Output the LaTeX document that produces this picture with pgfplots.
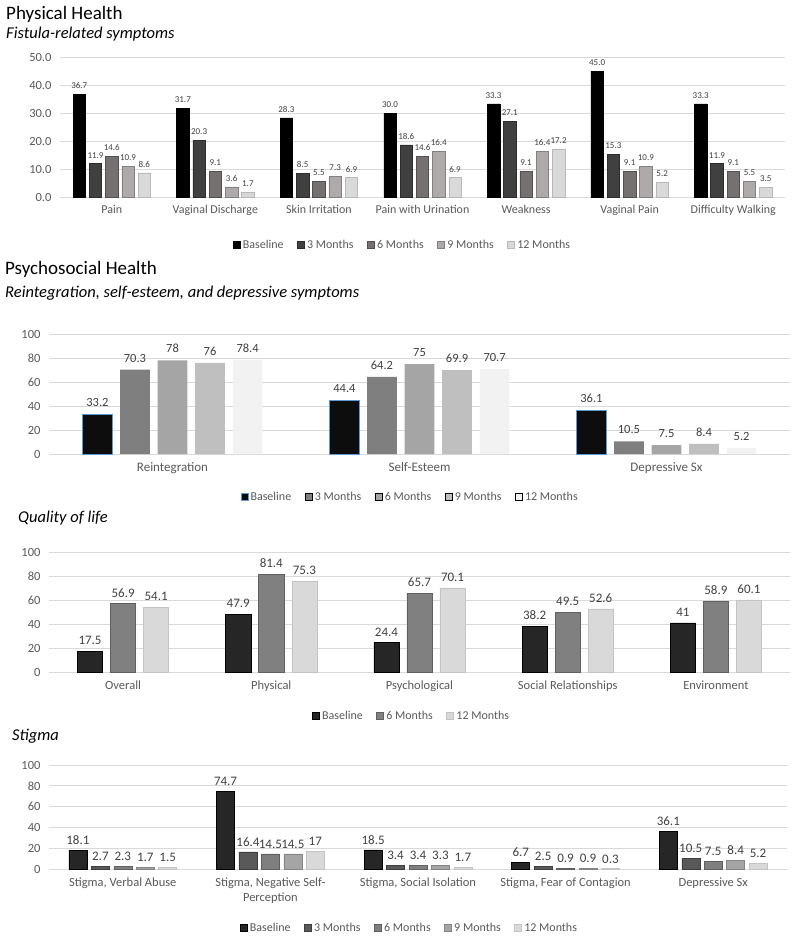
\documentclass[border=0pt]{standalone}
\usepackage{pgfplots}
\pgfplotsset{compat=1.18}
\usepackage{fontspec}
\setmainfont{Carlito}

\definecolor{gridc}{HTML}{D9D9D9}
\definecolor{txt}{HTML}{595959}
\definecolor{lbl}{HTML}{404040}
\definecolor{c1a}{HTML}{000000}
\definecolor{c1b}{HTML}{404040}
\definecolor{c1c}{HTML}{767171}
\definecolor{c1d}{HTML}{AEAAAA}
\definecolor{c1e}{HTML}{D9D9D9}
\definecolor{c2a}{HTML}{0D0D0D}
\definecolor{c2bl}{HTML}{5B9BD5}
\definecolor{c2b}{HTML}{7F7F7F}
\definecolor{c2c}{HTML}{A5A5A5}
\definecolor{c2d}{HTML}{BFBFBF}
\definecolor{c2e}{HTML}{F2F2F2}
\definecolor{c3a}{HTML}{262626}
\definecolor{c3b}{HTML}{808080}
\definecolor{c3c}{HTML}{D9D9D9}
\definecolor{c4a}{HTML}{262626}
\definecolor{c4b}{HTML}{595959}
\definecolor{c4c}{HTML}{7F7F7F}
\definecolor{c4d}{HTML}{A5A5A5}
\definecolor{c4e}{HTML}{D9D9D9}

\pgfplotsset{
  /pgf/number format/assume math mode=true,
  sq/.style={legend image code/.code={\draw[##1,line width=0.5pt] (0pt,-3.5pt) rectangle (7pt,3.5pt);}},
  chart/.style={
    ybar, scale only axis, anchor=south west,
    enlarge x limits=false, enlarge y limits=false,
    axis line style={draw=none},
    major tick length=0pt,
    ymajorgrids, grid style={draw=gridc, line width=1pt},
    tick label style={text=txt, font=\fontsize{12}{14}\selectfont},
    yticklabel style={xshift=-5pt, font=\fontsize{12.5}{14}\selectfont},
    xticklabel style={yshift=-5pt, align=center},
    legend style={draw=none, fill=none, legend columns=-1, anchor=center,
      font=\fontsize{12}{14}\selectfont, text=txt,
      /tikz/every odd column/.append style={column sep=1pt},
      /tikz/every even column/.append style={column sep=12pt},
      nodes={inner sep=1.5pt}},
    every axis plot post/.append style={sq},
    clip=false,
  },
}

\begin{document}
\begin{tikzpicture}
\path[use as bounding box] (0,0) rectangle (800pt,-942pt);

% ---------- Titles ----------
\node[anchor=base west, inner sep=0pt, font=\fontsize{19}{22}\selectfont] at (6pt,-20pt) {Physical Health};
\node[anchor=base west, inner sep=0pt, font=\fontsize{16.5}{19}\selectfont\itshape] at (6pt,-39pt) {Fistula-related symptoms};
\node[anchor=base west, inner sep=0pt, font=\fontsize{19}{22}\selectfont] at (5pt,-274pt) {Psychosocial Health};
\node[anchor=base west, inner sep=0pt, font=\fontsize{16.5}{19}\selectfont\itshape] at (5pt,-297pt) {Reintegration, self-esteem, and depressive symptoms};
\node[anchor=base west, inner sep=0pt, font=\fontsize{16.5}{19}\selectfont\itshape] at (18pt,-522pt) {Quality of life};
\node[anchor=base west, inner sep=0pt, font=\fontsize{16.5}{19}\selectfont\itshape] at (12pt,-740pt) {Stigma};

% ---------- Chart 1 ----------
\begin{axis}[chart,
  at={(60pt,-197pt)}, width=725pt, height=140pt,
  xmin=-0.5, xmax=6.5, ymin=0, ymax=50, ytick={0,10,...,50},
  yticklabel style={/pgf/number format/fixed, /pgf/number format/fixed zerofill, /pgf/number format/precision=1},
  xtick={0,...,6},
  xticklabels={Pain, Vaginal Discharge, Skin Irritation, Pain with Urination, Weakness, Vaginal Pain, Difficulty Walking},
  bar width=0.12,
  nodes near coords={\pgfmathprintnumber[fixed,fixed zerofill,precision=1]{\pgfplotspointmeta}},
  nodes near coords style={font=\fontsize{9}{10}\selectfont, text=lbl, yshift=2pt},
  legend style={at={(0.472,-0.343)}},
]
\addplot[fill=c1a, draw=black, line width=0.5pt, bar shift=-0.314] coordinates {(0,36.7) (1,31.7) (2,28.3) (3,30.0) (4,33.3) (5,45.0) (6,33.3)};
\addplot[fill=c1b, draw=c1b!70!black, line width=0.5pt, bar shift=-0.157] coordinates {(0,11.9) (1,20.3) (2,8.5) (3,18.6) (4,27.1) (5,15.3) (6,11.9)};
\addplot[fill=c1c, draw=c1c!70!black, line width=0.5pt, bar shift=0] coordinates {(0,14.6) (1,9.1) (2,5.5) (3,14.6) (4,9.1) (5,9.1) (6,9.1)};
\addplot[fill=c1d, draw=c1d!75!black, line width=0.5pt, bar shift=0.157] coordinates {(0,10.9) (1,3.6) (2,7.3) (3,16.4) (4,16.4) (5,10.9) (6,5.5)};
\addplot[fill=c1e, draw=c1e!85!black, line width=0.5pt, bar shift=0.314] coordinates {(0,8.6) (1,1.7) (2,6.9) (3,6.9) (4,17.2) (5,5.2) (6,3.5)};
\legend{Baseline, 3 Months, 6 Months, 9 Months, 12 Months}
\end{axis}

% ---------- Chart 2 ----------
\begin{axis}[chart,
  at={(49pt,-454pt)}, width=741pt, height=120pt,
  xmin=-0.5, xmax=2.5, ymin=0, ymax=100, ytick={0,20,...,100},
  xtick={0,1,2},
  xticklabels={Reintegration, Self-Esteem, Depressive Sx},
  xticklabel style={font=\fontsize{13}{15}\selectfont},
  bar width=0.12,
  nodes near coords,
  nodes near coords style={font=\fontsize{12.5}{14}\selectfont, text=lbl, yshift=4pt},
  legend style={at={(0.487,-0.358)}},
]
\addplot[fill=c2a, draw=c2bl, line width=1pt, bar shift=-0.304] coordinates {(0,33.2) (1,44.4) (2,36.1)};
\addplot[fill=c2b, draw=none, bar shift=-0.152] coordinates {(0,70.3) (1,64.2) (2,10.5)};
\addplot[fill=c2c, draw=none, bar shift=0] coordinates {(0,78) (1,75) (2,7.5)};
\addplot[fill=c2d, draw=none, bar shift=0.152] coordinates {(0,76) (1,69.9) (2,8.4)};
\addplot[fill=c2e, draw=none, bar shift=0.304] coordinates {(0,78.4) (1,70.7) (2,5.2)};
\legend{Baseline, 3 Months, 6 Months, 9 Months, 12 Months}
\end{axis}

% ---------- Chart 3 ----------
\begin{axis}[chart,
  at={(49pt,-672pt)}, width=741pt, height=120pt,
  xmin=-0.5, xmax=4.5, ymin=0, ymax=100, ytick={0,20,...,100},
  xtick={0,...,4},
  xticklabels={Overall, Physical, Psychological, Social Relationships, Environment},
  xticklabel style={font=\fontsize{12.5}{14}\selectfont},
  bar width=0.17,
  nodes near coords,
  nodes near coords style={font=\fontsize{13}{15}\selectfont, text=lbl, yshift=3pt},
  legend style={at={(0.489,-0.367)}},
]
\addplot[fill=c3a, draw=black, line width=0.5pt, bar shift=-0.223] coordinates {(0,17.5) (1,47.9) (2,24.4) (3,38.2) (4,41)};
\addplot[fill=c3b, draw=c3b!75!black, line width=0.5pt, bar shift=0] coordinates {(0,56.9) (1,81.4) (2,65.7) (3,49.5) (4,58.9)};
\addplot[fill=c3c, draw=c3c!90!black, line width=0.5pt, bar shift=0.223] coordinates {(0,54.1) (1,75.3) (2,70.1) (3,52.6) (4,60.1)};
\legend{Baseline, 6 Months, 12 Months}
\end{axis}

% ---------- Chart 4 ----------
\begin{axis}[chart,
  at={(49pt,-869pt)}, width=738pt, height=104pt,
  xmin=-0.5, xmax=4.5, ymin=0, ymax=100, ytick={0,20,...,100},
  xtick={0,...,4},
  xticklabels={{Stigma, Verbal Abuse}, {Stigma, Negative Self-\\Perception}, {Stigma, Social Isolation}, {Stigma, Fear of Contagion}, {Depressive Sx}},
  xticklabel style={font=\fontsize{12.5}{15.5}\selectfont},
  bar width=0.122,
  nodes near coords,
  nodes near coords style={font=\fontsize{13}{15}\selectfont, text=lbl, yshift=2pt},
  legend style={at={(0.488,-0.567)}},
]
\addplot[fill=c4a, draw=black, line width=0.5pt, bar shift=-0.304] coordinates {(0,18.1) (1,74.7) (2,18.5) (3,6.7) (4,36.1)};
\addplot[fill=c4b, draw=c4b!70!black, line width=0.5pt, bar shift=-0.152] coordinates {(0,2.7) (1,16.4) (2,3.4) (3,2.5) (4,10.5)};
\addplot[fill=c4c, draw=c4c!75!black, line width=0.5pt, bar shift=0] coordinates {(0,2.3) (1,14.5) (2,3.4) (3,0.9) (4,7.5)};
\addplot[fill=c4d, draw=c4d!80!black, line width=0.5pt, bar shift=0.152] coordinates {(0,1.7) (1,14.5) (2,3.3) (3,0.9) (4,8.4)};
\addplot[fill=c4e, draw=c4e!90!black, line width=0.5pt, bar shift=0.304] coordinates {(0,1.5) (1,17) (2,1.7) (3,0.3) (4,5.2)};
\legend{Baseline, 3 Months, 6 Months, 9 Months, 12 Months}
\end{axis}
\end{tikzpicture}
\end{document}
